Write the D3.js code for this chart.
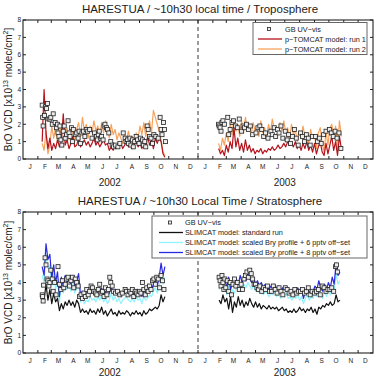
<!DOCTYPE html>
<html>
<head>
<meta charset="utf-8">
<script src="https://cdn.jsdelivr.net/npm/d3@7"></script>
<style>
  body { margin: 0; background: #fff; }
  text { font-family: "Liberation Sans", Arial, sans-serif; fill: #222; }
</style>
</head>
<body>
<script>
// month letters for the x axis, one per month over two years
let monthLetters = ["J", "F", "M", "A", "M", "J", "J", "A", "S", "O", "N", "D"];
let years = [2002, 2003];
let yTicks = [0, 1, 2, 3, 4, 5, 6, 7, 8];

// model runs are sampled every 4 days from a start day-of-year
let step = 4;

// ---- troposphere panel ----
let tropoRun1Start2002 = 41;
let tropoRun1_2002 = [1.0, 4.0, 1.5, 0.6, 1.2, 0.5, 0.9, 0.6, 1.1, 0.7, 1.0, 2.6, 0.8, 1.1, 0.6, 0.9, 1.3, 0.7, 0.8, 1.2,
  0.7, 0.9, 1.1, 0.8, 1.0, 0.7, 0.9, 1.2, 0.8, 1.0, 0.7, 0.9, 1.1, 0.8, 0.9, 0.5, 0.7, 0.5, 0.8, 0.6,
  0.7, 0.9, 0.6, 0.8, 1.0, 0.7, 0.9, 0.6, 0.8, 1.1, 0.7, 0.9, 0.6, 1.0, 0.7, 1.3, 0.8, 1.1, 0.6, 1.2,
  0.9, 1.2, 1.0, 0.3, 0.1];
let tropoRun2_2002 = [0.9, 0.5, 1.6, 0.3, 0.8, 1.9, 1.2, 1.8, 1.0, 2.0, 1.3, 2.3, 1.4, 1.8, 1.1, 1.9, 1.5, 1.0, 1.7, 2.1,
  1.3, 2.4, 1.6, 2.0, 1.2, 1.9, 1.5, 2.2, 1.6, 1.9, 1.3, 2.1, 1.5, 2.2, 1.8, 1.2, 2.0, 1.4, 1.7, 1.1,
  1.5, 1.2, 0.9, 1.4, 1.1, 1.6, 1.0, 1.3, 0.9, 1.5, 1.2, 1.9, 1.4, 2.1, 1.3, 1.8, 2.2, 1.5, 2.8, 2.4,
  2.0, 1.6, 1.1, 0.4, 0.2];
let tropoRunStart2003 = 44;
let tropoRun1_2003 = [0.6, 0.3, 0.5, 0.2, 0.8, 0.4, 1.0, 0.6, 1.8, 0.7, 1.2, 0.5, 0.9, 0.4, 1.1, 0.5, 0.8, 0.4, 0.6, 0.3,
  0.5, 0.4, 0.6, 0.3, 0.5, 0.4, 0.6, 0.5, 0.7, 0.5, 0.6, 0.8, 0.6, 0.7, 0.9, 0.7, 1.0, 0.8, 0.9, 0.7,
  1.0, 0.6, 0.8, 0.5, 0.9, 0.6, 1.0, 0.5, 0.8, 0.4, 0.9, 0.3, 0.7, 1.0, 0.4, 0.2, 0.9, 0.3, 0.8, 1.3,
  0.5, 1.0, 0.2, 1.3, 0.6];
let tropoRun2_2003 = [0.9, 0.5, 1.2, 0.8, 1.5, 1.0, 2.1, 1.4, 2.3, 1.6, 2.0, 1.3, 2.2, 1.5, 2.4, 1.7, 2.0, 1.4, 2.1, 1.6,
  1.9, 1.3, 2.2, 1.5, 1.8, 1.2, 2.0, 1.5, 2.3, 1.7, 1.9, 1.4, 2.1, 1.6, 2.2, 1.5, 1.8, 1.1, 2.0, 1.4,
  1.7, 1.0, 1.6, 1.2, 1.9, 1.3, 1.5, 0.9, 1.7, 1.2, 1.4, 0.6, 1.5, 1.8, 0.9, 0.4, 1.6, 0.8, 1.8, 2.0,
  1.2, 1.9, 0.5, 2.2, 1.3];
// ground-based observations: [day of year, value]
let tropoGB2002 = [[41, 3.1], [42, 2.4], [43, 1.9], [46, 2.5], [48, 3.0], [50, 2.9], [52, 3.2], [55, 2.3], [57, 2.3], [59, 2.4],
  [62, 2.0], [64, 2.6], [68, 2.1], [71, 1.8], [73, 2.0], [74, 1.5], [76, 1.3], [78, 1.9], [80, 1.1], [82, 0.8],
  [85, 1.6], [87, 1.9], [89, 1.2], [92, 1.4], [95, 2.2], [97, 1.5], [99, 1.3], [102, 1.8], [104, 1.0], [106, 1.7],
  [110, 1.4], [113, 1.5], [116, 1.2], [118, 1.6], [121, 0.9], [124, 1.5], [127, 1.6], [130, 1.3], [133, 1.7], [136, 1.6],
  [140, 1.7], [145, 1.2], [150, 1.5], [154, 1.3], [156, 1.1], [158, 1.4], [160, 1.6], [163, 1.2], [165, 1.3], [168, 1.1],
  [170, 1.9], [172, 2.0], [175, 1.8], [177, 1.7], [180, 1.5], [184, 1.0], [187, 0.8], [190, 0.7], [194, 0.8], [199, 0.7],
  [203, 0.9], [210, 1.5], [214, 1.2], [216, 1.0], [219, 1.1], [221, 0.9], [224, 1.2], [226, 0.8], [229, 1.1], [231, 0.7],
  [234, 1.0], [237, 1.3], [240, 1.1], [243, 0.9], [246, 1.2], [250, 1.1], [252, 0.8], [255, 1.0], [257, 0.7], [260, 1.9],
  [262, 1.7], [265, 1.3], [268, 1.2], [271, 0.9], [274, 1.4], [278, 1.3], [283, 1.2], [287, 2.4], [289, 1.7], [291, 1.4],
  [294, 2.1], [296, 1.7], [298, 1.0]];
let tropoGB2003 = [[44, 2.0], [45, 1.9], [47, 1.8], [49, 1.6], [51, 2.1], [53, 2.2], [56, 2.0], [63, 2.4], [65, 1.4], [68, 1.7],
  [72, 2.1], [75, 2.2], [79, 1.9], [83, 1.8], [87, 2.3], [92, 1.6], [95, 1.9], [98, 1.8], [102, 2.0], [106, 1.7],
  [110, 1.9], [115, 1.4], [122, 1.5], [126, 1.8], [130, 1.9], [134, 1.7], [138, 1.3], [142, 1.5], [147, 1.2], [153, 1.6],
  [156, 1.4], [160, 1.8], [163, 1.3], [167, 1.7], [170, 1.5], [174, 1.9], [178, 1.2], [183, 1.6], [187, 1.1], [190, 1.4],
  [194, 0.9], [198, 1.3], [202, 1.7], [206, 1.2], [210, 0.8], [215, 1.5], [219, 1.3], [223, 1.0], [227, 1.4], [231, 1.2],
  [235, 0.8], [240, 1.3], [246, 1.3], [250, 1.0], [254, 1.2], [258, 0.9], [263, 1.4], [268, 1.6], [275, 1.7], [279, 1.5],
  [283, 1.3], [287, 1.6], [291, 1.2], [295, 1.5], [299, 0.6]];

// ---- stratosphere panel ----
let stratoStart2002 = 41;
let stratoStd2002 = [3.3, 3.0, 3.9, 3.0, 3.6, 2.8, 3.4, 2.9, 3.1, 2.4, 2.8, 2.5, 2.9, 2.7, 3.0, 2.7, 2.9, 2.6, 3.0, 2.8,
  2.3, 2.5, 2.3, 2.4, 2.2, 2.5, 2.3, 2.4, 2.2, 2.5, 2.3, 2.6, 2.2, 2.4, 2.1, 2.3, 2.5, 2.2, 2.3, 2.1,
  2.4, 2.2, 2.3, 2.2, 2.4, 2.3, 2.1, 2.3, 2.2, 2.4, 2.2, 2.3, 2.1, 2.4, 2.2, 2.3, 2.5, 2.4, 2.5, 2.6,
  2.5, 2.7, 3.3, 2.9, 3.2];
let stratoOff6_2002 = [4.4, 4.0, 5.6, 4.8, 5.0, 3.8, 4.5, 3.6, 4.1, 2.9, 3.9, 3.4, 3.9, 3.6, 3.9, 3.5, 3.9, 3.4, 3.7, 4.0,
  2.9, 3.1, 2.8, 3.0, 2.9, 3.2, 3.0, 3.1, 2.9, 3.2, 3.0, 3.3, 2.9, 3.1, 2.8, 3.0, 3.4, 3.0, 3.2, 2.9,
  3.1, 2.8, 3.0, 3.1, 3.2, 3.0, 2.9, 3.1, 2.9, 3.2, 3.0, 3.1, 2.8, 3.2, 3.0, 3.1, 3.3, 3.2, 3.5, 3.7,
  3.4, 3.8, 4.5, 3.9, 4.3];
let stratoOff8_2002 = [4.9, 4.4, 6.2, 5.3, 5.6, 4.2, 5.0, 4.0, 4.6, 3.2, 4.3, 3.8, 4.4, 4.0, 4.3, 3.9, 4.4, 3.8, 4.1, 4.5,
  3.3, 3.5, 3.2, 3.4, 3.3, 3.6, 3.4, 3.5, 3.3, 3.6, 3.4, 3.7, 3.3, 3.5, 3.2, 3.4, 3.8, 3.4, 3.6, 3.3,
  3.5, 3.2, 3.4, 3.5, 3.6, 3.4, 3.3, 3.5, 3.3, 3.6, 3.4, 3.5, 3.2, 3.6, 3.4, 3.5, 3.7, 3.6, 3.9, 4.1,
  3.8, 4.3, 5.1, 4.4, 4.9];
let stratoStart2003 = 45;
let stratoStd2003 = [3.0, 2.8, 3.3, 2.9, 3.1, 2.5, 3.2, 2.3, 2.9, 2.6, 3.2, 2.7, 3.0, 2.6, 2.9, 2.7, 3.1, 2.8, 2.6, 2.9,
  2.6, 2.8, 2.5, 2.7, 2.6, 2.5, 2.7, 2.5, 2.6, 2.5, 2.6, 2.4, 2.5, 2.6, 2.4, 2.5, 2.3, 2.4, 2.3, 2.5,
  2.3, 2.4, 2.6, 2.4, 2.5, 2.3, 2.5, 2.4, 2.6, 2.3, 2.5, 2.2, 2.6, 2.5, 2.7, 2.6, 2.8, 2.7, 2.9, 2.7,
  2.8, 3.3, 2.9, 3.0];
let stratoOff6_2003 = [3.6, 3.8, 3.5, 3.8, 3.3, 3.9, 3.2, 3.6, 3.4, 3.8, 3.5, 3.9, 3.6, 3.9, 3.7, 4.0, 3.8, 3.6, 3.9, 3.5,
  3.7, 3.4, 3.6, 3.3, 3.5, 3.4, 3.2, 3.4, 3.3, 3.5, 3.2, 3.4, 3.1, 3.3, 3.2, 3.4, 3.1, 3.2, 3.0, 3.2,
  3.1, 3.3, 3.0, 3.2, 2.8, 3.1, 3.3, 3.0, 3.2, 3.1, 3.4, 3.2, 3.6, 3.3, 3.1, 3.5, 3.2, 3.6, 3.3, 3.8,
  3.5, 4.5, 3.9, 4.1];
let stratoOff8_2003 = [4.0, 4.3, 3.9, 4.2, 3.7, 4.3, 3.6, 4.0, 3.8, 4.2, 3.9, 4.4, 4.0, 4.3, 4.1, 4.5, 4.2, 4.0, 4.3, 3.9,
  4.1, 3.8, 4.0, 3.7, 3.9, 3.8, 3.6, 3.8, 3.7, 3.9, 3.6, 3.8, 3.5, 3.7, 3.6, 3.8, 3.5, 3.6, 3.4, 3.6,
  3.5, 3.7, 3.4, 3.6, 3.1, 3.5, 3.7, 3.4, 3.6, 3.5, 3.8, 3.6, 4.1, 3.7, 3.5, 3.9, 3.6, 4.0, 3.7, 4.3,
  3.9, 5.1, 4.4, 4.6];
let stratoGB2002 = [[41, 3.3], [42, 3.2], [43, 2.95], [44, 3.85], [47, 5.4], [49, 5.0], [51, 4.2], [53, 4.1], [55, 3.8], [57, 4.0],
  [59, 4.7], [62, 4.2], [64, 3.5], [67, 4.0], [70, 3.3], [74, 4.9], [77, 3.9], [80, 3.6], [83, 4.1], [86, 3.7],
  [89, 3.9], [92, 4.2], [95, 4.3], [98, 3.8], [101, 4.1], [104, 4.3], [107, 3.7], [110, 4.2], [113, 4.0], [116, 3.8],
  [119, 3.2], [122, 3.3], [125, 3.1], [128, 3.4], [131, 3.2], [134, 3.6], [137, 3.3], [140, 3.5], [143, 3.8], [146, 3.7],
  [149, 3.5], [152, 3.4], [155, 3.3], [158, 3.6], [161, 3.9], [164, 3.4], [167, 3.5], [170, 3.2], [173, 3.7], [176, 3.3],
  [179, 3.6], [182, 4.3], [184, 4.0], [187, 3.8], [190, 3.5], [194, 3.4], [198, 3.5], [203, 3.3], [208, 3.4], [214, 3.6],
  [217, 3.5], [220, 3.3], [223, 3.5], [226, 3.4], [229, 3.6], [232, 3.2], [235, 3.5], [238, 3.4], [241, 3.3], [244, 3.5],
  [247, 3.4], [250, 4.0], [253, 3.6], [256, 3.3], [259, 3.7], [262, 3.5], [265, 3.8], [268, 3.6], [271, 4.1], [274, 4.2],
  [277, 3.9], [280, 4.3], [283, 4.2], [286, 3.7], [289, 4.4], [292, 4.1], [295, 3.6]];
let stratoGB2003 = [[45, 4.3], [47, 4.1], [49, 3.8], [51, 4.4], [53, 4.0], [55, 3.6], [57, 4.2], [59, 3.7], [62, 4.1], [65, 3.5],
  [68, 4.0], [71, 3.3], [74, 3.9], [77, 4.2], [80, 3.8], [83, 4.0], [87, 3.6], [91, 3.9], [94, 3.6], [97, 4.2],
  [100, 4.4], [103, 4.6], [106, 4.3], [109, 4.7], [112, 4.5], [115, 4.2], [118, 3.9], [121, 3.9], [124, 3.7], [127, 3.6],
  [130, 3.8], [134, 3.5], [138, 3.7], [142, 3.6], [146, 3.8], [150, 3.5], [154, 3.5], [158, 3.8], [162, 3.6], [166, 3.4],
  [170, 3.7], [174, 3.5], [178, 3.3], [183, 3.7], [187, 3.6], [191, 3.4], [195, 3.5], [199, 3.3], [203, 3.6], [207, 3.4],
  [211, 3.5], [215, 3.5], [219, 3.6], [223, 3.4], [227, 3.5], [231, 3.7], [235, 3.3], [239, 3.5], [244, 3.4], [248, 3.5],
  [252, 3.6], [256, 3.3], [260, 3.8], [264, 3.7], [268, 3.5], [272, 3.6], [276, 3.6], [280, 3.7], [284, 3.5], [288, 4.9],
  [290, 5.0], [292, 4.6]];

let width = 378;
let height = 380;
let minus = "\u2212";

let svg = d3.select('body')
    .append('svg')
    .attr('width', width)
    .attr('height', height);

let x = d3.scaleUtc()
    .domain([new Date(Date.UTC(2002, 0, 1)), new Date(Date.UTC(2004, 0, 1))])
    .range([23, 373]);

function doyDate(year, doy) {
  return new Date(Date.UTC(year, 0, doy));
}

// turn a run (start day + values) into points
function runPoints(year, start, values) {
  return values.map((v, i) => ({date: doyDate(year, start + i * step), value: v}));
}

function obsPoints(year, pairs) {
  return pairs.map(p => ({date: doyDate(year, p[0]), value: p[1]}));
}

function drawPanel(cfg) {
  let y = d3.scaleLinear().domain([0, 8]).range([cfg.bottom, cfg.top]);
  let g = svg.append('g');
  let left = x.range()[0], right = x.range()[1];

  g.append('text')
      .attr('x', 200).attr('y', cfg.top - 7)
      .attr('text-anchor', 'middle')
      .style('font-size', '11.5px')
      .text(cfg.title);

  // year boundary
  g.append('line')
      .attr('x1', x(new Date(Date.UTC(2003, 0, 1)))).attr('x2', x(new Date(Date.UTC(2003, 0, 1))))
      .attr('y1', cfg.top).attr('y2', cfg.bottom)
      .attr('stroke', '#222').attr('stroke-dasharray', '4,3').attr('stroke-width', 0.9);

  let line = d3.line()
      .x(d => x(d.date))
      .y(d => y(d.value));

  cfg.lines.forEach(s => {
    g.append('path')
        .datum(s.points)
        .attr('d', line)
        .attr('fill', 'none')
        .attr('stroke', s.color)
        .attr('stroke-width', s.width || 1.2)
        .attr('stroke-linejoin', 'round');
  });

  g.append('g').selectAll('rect')
      .data(cfg.obs)
    .enter().append('rect')
      .attr('x', d => x(d.date) - 2)
      .attr('y', d => y(d.value) - 2)
      .attr('width', 4).attr('height', 4)
      .attr('fill', '#eee')
      .attr('stroke', '#222')
      .attr('stroke-width', 0.8);

  // frame
  g.append('rect')
      .attr('x', left).attr('y', cfg.top)
      .attr('width', right - left).attr('height', cfg.bottom - cfg.top)
      .attr('fill', 'none').attr('stroke', '#222').attr('stroke-width', 1.1);

  // month ticks top and bottom, inward
  let months = d3.utcMonth.range(x.domain()[0], x.domain()[1]);
  months.slice(1).forEach(m => {
    g.append('line').attr('x1', x(m)).attr('x2', x(m))
        .attr('y1', cfg.bottom).attr('y2', cfg.bottom - 3).attr('stroke', '#222');
    g.append('line').attr('x1', x(m)).attr('x2', x(m))
        .attr('y1', cfg.top).attr('y2', cfg.top + 3).attr('stroke', '#222');
  });
  g.append('g').selectAll('text')
      .data(months)
    .enter().append('text')
      .attr('x', m => x(d3.utcDay.offset(m, 15)))
      .attr('y', cfg.bottom + 10)
      .attr('text-anchor', 'middle')
      .style('font-size', '6.5px')
      .text(m => monthLetters[m.getUTCMonth()]);

  years.forEach(yr => {
    g.append('text')
        .attr('x', x(new Date(Date.UTC(yr, 6, 1))))
        .attr('y', cfg.yearY)
        .attr('text-anchor', 'middle')
        .style('font-size', '10px')
        .text(yr);
  });

  // y ticks on both sides
  yTicks.forEach(t => {
    g.append('line').attr('x1', left).attr('x2', left + 3)
        .attr('y1', y(t)).attr('y2', y(t)).attr('stroke', '#222');
    g.append('line').attr('x1', right).attr('x2', right - 3)
        .attr('y1', y(t)).attr('y2', y(t)).attr('stroke', '#222');
    g.append('text')
        .attr('x', left - 2).attr('y', y(t) + 2.3)
        .attr('text-anchor', 'end')
        .style('font-size', '6.5px')
        .text(t);
  });

  let yl = g.append('text')
      .attr('transform', `translate(12,${(cfg.top + cfg.bottom) / 2}) rotate(-90)`)
      .attr('text-anchor', 'middle')
      .style('font-size', '10px');
  yl.append('tspan').text('BrO VCD [x10');
  yl.append('tspan').attr('dy', -4).style('font-size', '7px').text('13');
  yl.append('tspan').attr('dy', 4).text(' molec/cm');
  yl.append('tspan').attr('dy', -4).style('font-size', '7px').text('2');
  yl.append('tspan').attr('dy', 4).text(']');

  // legend
  let lg = cfg.legend;
  g.append('rect')
      .attr('x', lg.x).attr('y', lg.y)
      .attr('width', lg.w).attr('height', lg.rows.length * 10 + 2)
      .attr('fill', '#fff').attr('stroke', '#666').attr('stroke-width', 1);
  lg.rows.forEach((r, i) => {
    let ry = lg.y + 6.5 + i * 10;
    if (r.marker) {
      g.append('rect').attr('x', lg.x + lg.sym - 1.5).attr('y', ry - 1.5)
          .attr('width', 3).attr('height', 3)
          .attr('fill', '#eee').attr('stroke', '#222').attr('stroke-width', 0.8);
    } else {
      g.append('line').attr('x1', lg.x + lg.sym - 11).attr('x2', lg.x + lg.sym + 13)
          .attr('y1', ry).attr('y2', ry)
          .attr('stroke', r.color).attr('stroke-width', 1.3);
    }
    g.append('text')
        .attr('x', lg.x + lg.text).attr('y', ry + 2.5)
        .style('font-size', '7.3px')
        .text(r.label);
  });
}

let red = '#b5121b';
let orange = '#f6a25d';
let cyan = '#8ff4ff';
let blue = '#2a2ae0';

drawPanel({
  title: 'HARESTUA / ~10h30 local time / Troposphere',
  top: 20, bottom: 159, yearY: 186,
  lines: [
    {color: orange, points: runPoints(2002, tropoRun1Start2002, tropoRun2_2002)},
    {color: orange, points: runPoints(2003, tropoRunStart2003, tropoRun2_2003)},
    {color: red, points: runPoints(2002, tropoRun1Start2002, tropoRun1_2002)},
    {color: red, points: runPoints(2003, tropoRunStart2003, tropoRun1_2003)}
  ],
  obs: obsPoints(2002, tropoGB2002).concat(obsPoints(2003, tropoGB2003)),
  legend: {x: 253, y: 22.5, w: 114, sym: 16, text: 32, rows: [
    {marker: true, label: 'GB UV' + minus + 'vis'},
    {color: red, label: 'p' + minus + 'TOMCAT model: run 1'},
    {color: orange, label: 'p' + minus + 'TOMCAT model: run 2'}
  ]}
});

drawPanel({
  title: 'HARESTUA / ~10h30 Local Time / Stratosphere',
  top: 212, bottom: 353, yearY: 376,
  lines: [
    {color: cyan, points: runPoints(2002, stratoStart2002, stratoOff6_2002)},
    {color: cyan, points: runPoints(2003, stratoStart2003, stratoOff6_2003)},
    {color: blue, points: runPoints(2002, stratoStart2002, stratoOff8_2002)},
    {color: blue, points: runPoints(2003, stratoStart2003, stratoOff8_2003)},
    {color: '#111', points: runPoints(2002, stratoStart2002, stratoStd2002)},
    {color: '#111', points: runPoints(2003, stratoStart2003, stratoStd2003)}
  ],
  obs: obsPoints(2002, stratoGB2002).concat(obsPoints(2003, stratoGB2003)),
  legend: {x: 152, y: 216, w: 215, sym: 18, text: 33, rows: [
    {marker: true, label: 'GB UV' + minus + 'vis'},
    {color: '#111', label: 'SLIMCAT model: standard run'},
    {color: cyan, label: 'SLIMCAT model: scaled Bry profile + 6 pptv off' + minus + 'set'},
    {color: blue, label: 'SLIMCAT model: scaled Bry profile + 8 pptv off' + minus + 'set'}
  ]}
});
</script>
</body>
</html>
